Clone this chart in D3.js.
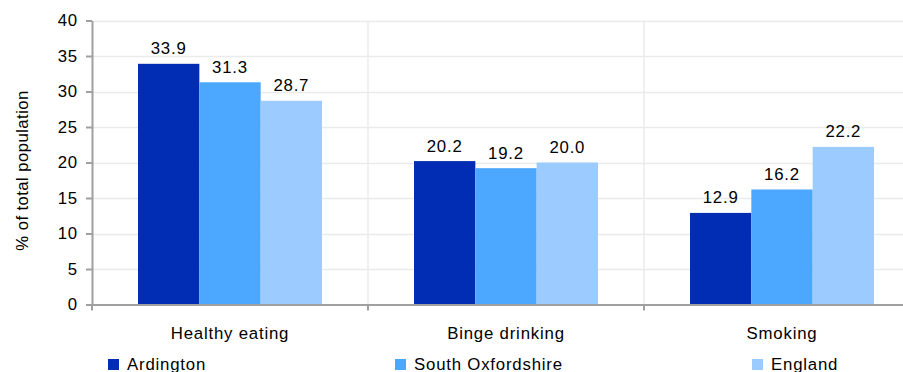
<!DOCTYPE html>
<html><head><meta charset="utf-8">
<script src="https://cdn.jsdelivr.net/npm/d3@7/dist/d3.min.js"></script>
<style>body{margin:0;background:#fff}svg{display:block;font-family:"Liberation Sans",Arial,sans-serif}</style>
</head><body><svg id="c" width="903" height="372"></svg>
<script>
const categories = ["Healthy eating", "Binge drinking", "Smoking"];
const seriesNames = ["Ardington", "South Oxfordshire", "England"];
const ardington = [33.9, 20.2, 12.9];
const southOxfordshire = [31.3, 19.2, 16.2];
const england = [28.7, 20.0, 22.2];
const yTicks = [0, 5, 10, 15, 20, 25, 30, 35, 40];
const colors = ["#002db3", "#4ca8ff", "#9bcbff"];

(function () {
const series = [ardington, southOxfordshire, england];
const svg = d3.select("#c");
const pL = 92, pR = 920, pT = 20.5, pB = 304.5;
const FS = 16.8, LS = "0.8px";

const x0 = d3.scaleBand().domain(categories).range([pL, pR]).paddingInner(0).paddingOuter(0);
const x1 = d3.scaleBand().domain(seriesNames).range([0, x0.bandwidth()]).paddingOuter(0.75).paddingInner(0);
const y = d3.scaleLinear().domain([0, 40]).range([pB, pT]);

svg.append("g").selectAll("line").data(yTicks.filter(d => d > 0)).join("line")
  .attr("x1", pL).attr("x2", pR)
  .attr("y1", d => Math.round(y(d)) + 0.5).attr("y2", d => Math.round(y(d)) + 0.5)
  .attr("stroke", "#ebebeb").attr("stroke-width", 1.5);
svg.append("g").selectAll("line").data(categories.slice(1)).join("line")
  .attr("x1", d => x0(d)).attr("x2", d => x0(d))
  .attr("y1", pT).attr("y2", pB)
  .attr("stroke", "#ebebeb").attr("stroke-width", 1.5);

const groups = svg.append("g").selectAll("g").data(categories).join("g")
  .attr("transform", d => `translate(${x0(d)},0)`);
const rows = (c, i) => seriesNames.map((s, j) => ({s, v: series[j][i], j}));
groups.selectAll("rect").data(rows).join("rect")
  .attr("x", d => x1(d.s)).attr("width", x1.bandwidth())
  .attr("y", d => y(d.v)).attr("height", d => y(0) - y(d.v))
  .attr("fill", d => colors[d.j]);
groups.selectAll("text").data(rows).join("text")
  .attr("x", d => x1(d.s) + x1.bandwidth() / 2).attr("y", d => y(d.v) - 9.5)
  .attr("text-anchor", "middle").attr("font-size", FS).attr("letter-spacing", LS).attr("fill", "#000")
  .text(d => d.v.toFixed(1));

const yAxis = svg.append("g").attr("transform", `translate(${pL},0)`)
  .call(d3.axisLeft(y).tickValues(yTicks).tickSize(6).tickPadding(9).tickSizeOuter(0));
yAxis.select(".domain").attr("stroke", "#a0a0a0").attr("stroke-width", 2);
yAxis.selectAll(".tick line").attr("stroke", "#a0a0a0").attr("stroke-width", 2);
yAxis.selectAll(".tick text").attr("font-size", FS).attr("letter-spacing", LS).attr("fill", "#000")
  .attr("font-family", "Liberation Sans, Arial, sans-serif").attr("x", -14);

const xAxisLine = svg.append("g");
xAxisLine.append("line").attr("x1", pL - 6).attr("x2", pR).attr("y1", pB + 0.5).attr("y2", pB + 0.5)
  .attr("stroke", "#a0a0a0").attr("stroke-width", 2);
xAxisLine.selectAll("line.t").data(categories).join("line").attr("class", "t")
  .attr("x1", d => x0(d)).attr("x2", d => x0(d)).attr("y1", pB).attr("y2", pB + 6)
  .attr("stroke", "#a0a0a0").attr("stroke-width", 2);
svg.append("g").selectAll("text").data(categories).join("text")
  .attr("x", d => x0(d) + x0.bandwidth() / 2).attr("y", 339)
  .attr("text-anchor", "middle").attr("font-size", FS).attr("letter-spacing", LS).text(d => d);

svg.append("text").attr("transform", `translate(28,${(pT + pB) / 2 + 8}) rotate(-90)`)
  .attr("text-anchor", "middle").attr("font-size", FS).attr("letter-spacing", "0.4px").text("% of total population");

const legendX = [108, 395, 752];
const lg = svg.append("g").selectAll("g").data(seriesNames).join("g")
  .attr("transform", (d, i) => `translate(${legendX[i]},359)`);
lg.append("rect").attr("width", 11).attr("height", 11).attr("fill", (d, i) => colors[i]);
lg.append("text").attr("x", 19).attr("y", 10.5).attr("font-size", FS).attr("letter-spacing", LS).text(d => d);
})();
</script></body></html>
